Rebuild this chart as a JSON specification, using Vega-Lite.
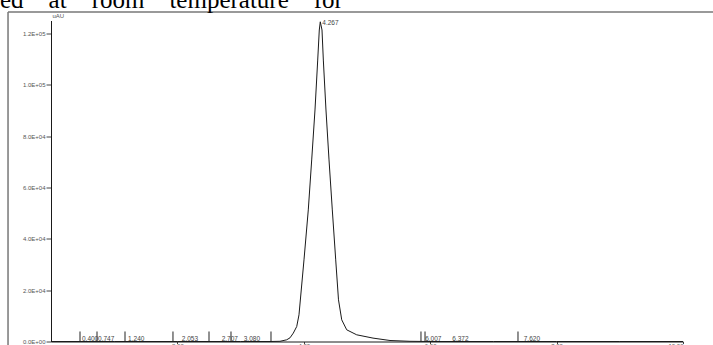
{
  "$schema": "https://vega.github.io/schema/vega-lite/v6.json",
  "autosize": "none",
  "width": 632,
  "height": 321,
  "padding": {"left": 51, "top": 20.5, "right": 30, "bottom": 3.5},
  "background": "white",
  "config": {
    "view": {"stroke": null},
    "axis": {"grid": false, "labelFont": "Liberation Sans", "titleFont": "Liberation Sans"}
  },
  "datasets": {
    "trace": [
      {"t": 0, "v": 0}, {"t": 1.0, "v": 0}, {"t": 2.0, "v": 0}, {"t": 3.0, "v": 0},
      {"t": 3.465, "v": 0}, {"t": 3.623, "v": 78}, {"t": 3.729, "v": 661},
      {"t": 3.782, "v": 1440}, {"t": 3.834, "v": 3268}, {"t": 3.888, "v": 5837},
      {"t": 3.924, "v": 10390}, {"t": 4.003, "v": 31790}, {"t": 4.071, "v": 51240},
      {"t": 4.125, "v": 70700}, {"t": 4.177, "v": 90150}, {"t": 4.220, "v": 109600},
      {"t": 4.245, "v": 121300}, {"t": 4.261, "v": 124500}, {"t": 4.288, "v": 121300},
      {"t": 4.309, "v": 109600}, {"t": 4.351, "v": 90150}, {"t": 4.399, "v": 70700},
      {"t": 4.451, "v": 51240}, {"t": 4.505, "v": 31790}, {"t": 4.549, "v": 16230},
      {"t": 4.600, "v": 8443}, {"t": 4.679, "v": 4552}, {"t": 4.837, "v": 2607},
      {"t": 5.095, "v": 1323}, {"t": 5.364, "v": 389}, {"t": 5.680, "v": 78},
      {"t": 5.997, "v": 0}, {"t": 7.0, "v": 0}, {"t": 8.0, "v": 0}, {"t": 9.0, "v": 0}, {"t": 10.0, "v": 0}
    ],
    "ticks": [
      {"t": 0.459}, {"t": 0.728}, {"t": 1.171}, {"t": 1.930}, {"t": 2.500},
      {"t": 2.848}, {"t": 3.481}, {"t": 5.854}, {"t": 5.918}, {"t": 7.389}
    ],
    "labels": [
      {"t": 0.49, "label": "0.400"}, {"t": 0.745, "label": "0.747"},
      {"t": 1.22, "label": "1.240"}, {"t": 2.07, "label": "2.053"},
      {"t": 2.70, "label": "2.707"}, {"t": 3.05, "label": "3.080"},
      {"t": 5.92, "label": "6.007"}, {"t": 6.35, "label": "6.372"},
      {"t": 7.48, "label": "7.620"}
    ],
    "apex": [{"t": 4.261, "v": 124500, "label": "4.267"}]
  },
  "layer": [
    {
      "data": {"values": [{}]},
      "mark": {"type": "rule", "color": "#777", "strokeWidth": 1.5},
      "encoding": {
        "x": {"datum": -0.68, "type": "quantitative", "scale": {"domain": [0, 10], "nice": false, "zero": false}},
        "x2": {"datum": 11},
        "y": {"datum": 128300, "type": "quantitative", "scale": {"domain": [0, 125000], "nice": false}},
        "y2": {"datum": 128300}
      }
    },
    {
      "data": {"values": [{}]},
      "mark": {"type": "rule", "color": "#777", "strokeWidth": 1.5},
      "encoding": {
        "x": {"datum": -0.68, "type": "quantitative"},
        "y": {"datum": -3000, "type": "quantitative"},
        "y2": {"datum": 128300}
      }
    },
    {
      "data": {"values": [{}]},
      "mark": {"type": "text", "font": "Liberation Serif", "fontSize": 25, "align": "left", "baseline": "alphabetic", "color": "black"},
      "encoding": {
        "x": {"datum": -0.807, "type": "quantitative"},
        "y": {"datum": 129860, "type": "quantitative"},
        "text": {"value": "ed\u00a0\u00a0\u00a0\u00a0at\u00a0\u00a0\u00a0\u00a0room\u00a0\u00a0\u00a0\u00a0temperature\u00a0\u00a0\u00a0\u00a0for"}
      }
    },
    {
      "data": {"name": "trace"},
      "mark": {"type": "line", "color": "#1a1a1a", "strokeWidth": 1},
      "encoding": {
        "x": {
          "field": "t", "type": "quantitative",
          "axis": {
            "values": [2, 4, 6, 8, 10], "format": ".2f", "labelFontSize": 6, "labelColor": "#555",
            "tickSize": 2, "tickColor": "#444", "labelPadding": -1, "domainColor": "#1a1a1a",
            "title": "min", "titleFontSize": 6, "titleFontWeight": "normal", "titleColor": "#555",
            "titleX": 656, "titleY": 3, "titleAlign": "left", "titleBaseline": "top", "titleAnchor": "start"
          }
        },
        "y": {
          "field": "v", "type": "quantitative",
          "axis": {
            "values": [0, 20000, 40000, 60000, 80000, 100000, 120000],
            "labelExpr": "replace(replace(format(datum.value, '.1e'), 'e+', 'E+0'), 'e-', 'E-0')",
            "labelFontSize": 6, "labelColor": "#555", "tickSize": 5, "tickColor": "#444",
            "labelPadding": 1, "domainColor": "#1a1a1a",
            "title": "uAU", "titleAngle": 0, "titleX": 1, "titleY": -2, "titleAlign": "left",
            "titleBaseline": "bottom", "titleFontSize": 6, "titleFontWeight": "normal", "titleColor": "#555"
          }
        }
      }
    },
    {
      "data": {"name": "ticks"},
      "mark": {"type": "rule", "color": "#222", "strokeWidth": 1},
      "encoding": {
        "x": {"field": "t", "type": "quantitative"},
        "y": {"datum": 0, "type": "quantitative"},
        "y2": {"datum": 3900}
      }
    },
    {
      "data": {"name": "labels"},
      "mark": {"type": "text", "font": "Liberation Sans", "fontSize": 6.5, "align": "left", "baseline": "alphabetic", "dy": -1, "color": "#444"},
      "encoding": {
        "x": {"field": "t", "type": "quantitative"},
        "y": {"datum": 0, "type": "quantitative"},
        "text": {"field": "label"}
      }
    },
    {
      "data": {"name": "apex"},
      "mark": {"type": "text", "font": "Liberation Sans", "fontSize": 6.5, "align": "left", "baseline": "middle", "dx": 2, "dy": 1, "color": "#444"},
      "encoding": {
        "x": {"field": "t", "type": "quantitative"},
        "y": {"field": "v", "type": "quantitative"},
        "text": {"field": "label"}
      }
    }
  ]
}
